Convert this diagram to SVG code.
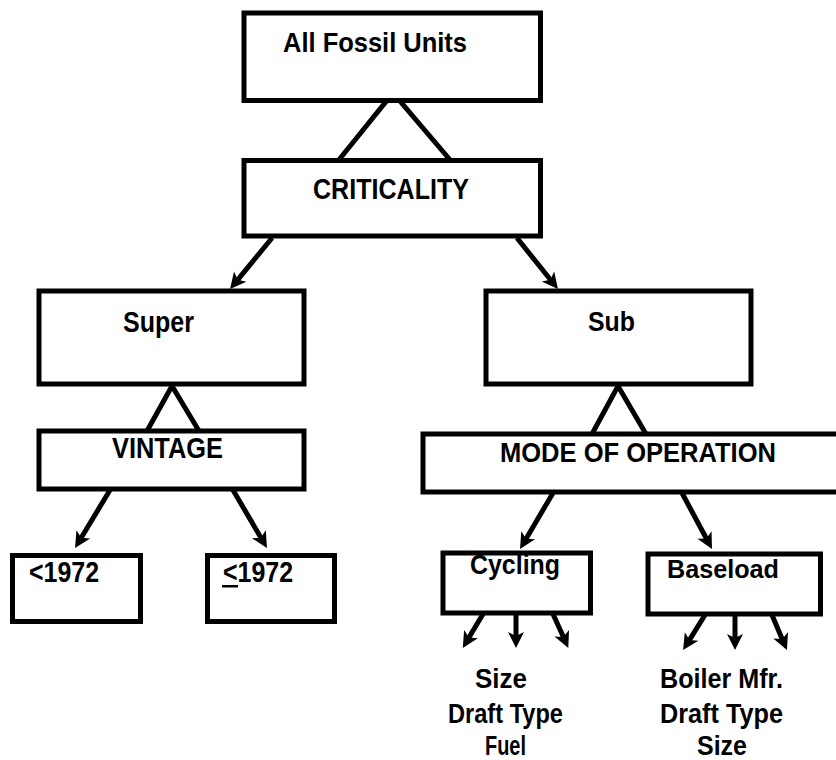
<svg xmlns="http://www.w3.org/2000/svg" width="836" height="760" viewBox="0 0 836 760">
<style>
.box{fill:#fff;stroke:#000;stroke-width:5}
.ln{fill:none;stroke:#000;stroke-width:5}
.arr{fill:none;stroke:#000;stroke-width:5;marker-end:url(#ah)}
text{font-family:"Liberation Sans",Arial,sans-serif;font-weight:bold;font-size:28px;fill:#000}
.m{text-anchor:middle}
</style>
<defs>
<marker id="ah" markerUnits="userSpaceOnUse" markerWidth="20" markerHeight="20" refX="6" refY="10" orient="auto" overflow="visible">
<path d="M16,10 L0,2 L4,10 L0,18 Z" fill="#000"/>
</marker>
</defs>
<rect width="836" height="760" fill="#fff"/>
<g id="connectors">
<polyline class="ln" points="338,161 393,93 451,161"/>
<polyline class="ln" points="147,431 172,386 199,431"/>
<polyline class="ln" points="592,434 618,386 646,434"/>
<line class="arr" x1="272" y1="238" x2="236.4" y2="281.3"/>
<line class="arr" x1="517" y1="238" x2="551.7" y2="281.3"/>
<line class="arr" x1="110" y1="490" x2="80.2" y2="539.5"/>
<line class="arr" x1="233" y1="490" x2="261.9" y2="539.4"/>
<line class="arr" x1="553" y1="493" x2="525.1" y2="540.4"/>
<line class="arr" x1="682" y1="493" x2="707.3" y2="540.2"/>
<line class="arr" x1="483" y1="614" x2="467.9" y2="639.3"/>
<line class="arr" x1="516" y1="614" x2="516" y2="638"/>
<line class="arr" x1="553" y1="614" x2="564.2" y2="638.8"/>
<line class="arr" x1="705" y1="615" x2="688.4" y2="641.6"/>
<line class="arr" x1="735" y1="615" x2="735" y2="640"/>
<line class="arr" x1="772" y1="615" x2="783" y2="640.9"/>
</g>
<g id="node-all">
<rect class="box" x="244" y="13" width="296.5" height="87.5"/>
<text x="283" y="52" textLength="184" lengthAdjust="spacingAndGlyphs">All Fossil Units</text>
</g>
<g id="node-criticality">
<rect class="box" x="244" y="160.5" width="296.5" height="75.5"/>
<text x="313" y="199" textLength="156" lengthAdjust="spacingAndGlyphs" style="font-size:29px">CRITICALITY</text>
</g>
<g id="node-super">
<rect class="box" x="39" y="291" width="265" height="93"/>
<text x="123" y="332" textLength="71" lengthAdjust="spacingAndGlyphs" style="font-size:30px">Super</text>
</g>
<g id="node-vintage">
<rect class="box" x="39" y="431" width="265" height="58"/>
<text x="112" y="458" textLength="111" lengthAdjust="spacingAndGlyphs" style="font-size:30px">VINTAGE</text>
</g>
<g id="node-sub">
<rect class="box" x="486" y="291" width="265" height="93"/>
<text x="588" y="331" textLength="47" lengthAdjust="spacingAndGlyphs">Sub</text>
</g>
<g id="node-mode">
<rect class="box" x="423" y="434" width="420" height="58"/>
<text x="500" y="462" textLength="276" lengthAdjust="spacingAndGlyphs" style="font-size:27px">MODE OF OPERATION</text>
</g>
<g id="node-lt1972">
<rect class="box" x="12.5" y="555.5" width="128" height="66"/>
<text x="29" y="582" textLength="70" lengthAdjust="spacingAndGlyphs" style="font-size:30px">&lt;1972</text>
</g>
<g id="node-le1972">
<rect class="box" x="207.5" y="555.5" width="127" height="66"/>
<text x="223" y="582" textLength="70" lengthAdjust="spacingAndGlyphs" style="font-size:30px">&lt;1972</text>
<rect x="222" y="585" width="16" height="2.5" fill="#000"/>
</g>
<g id="node-cycling">
<rect class="box" x="443" y="553" width="147.5" height="60"/>
<text x="470" y="574" textLength="90" lengthAdjust="spacingAndGlyphs" style="font-size:27px">Cycling</text>
</g>
<g id="node-baseload">
<rect class="box" x="648" y="554" width="172.5" height="60"/>
<text x="667" y="578" textLength="112" lengthAdjust="spacingAndGlyphs" style="font-size:26px">Baseload</text>
</g>
<g id="list-cycling">
<text class="m" x="501" y="688" textLength="52" lengthAdjust="spacingAndGlyphs">Size</text>
<text class="m" x="505.5" y="723" textLength="115" lengthAdjust="spacingAndGlyphs">Draft Type</text>
<text class="m" x="505.5" y="755" textLength="41" lengthAdjust="spacingAndGlyphs">Fuel</text>
</g>
<g id="list-baseload">
<text class="m" x="721.5" y="688" textLength="123" lengthAdjust="spacingAndGlyphs">Boiler Mfr.</text>
<text class="m" x="721.5" y="723" textLength="123" lengthAdjust="spacingAndGlyphs">Draft Type</text>
<text class="m" x="722" y="755" textLength="50" lengthAdjust="spacingAndGlyphs">Size</text>
</g>
</svg>
